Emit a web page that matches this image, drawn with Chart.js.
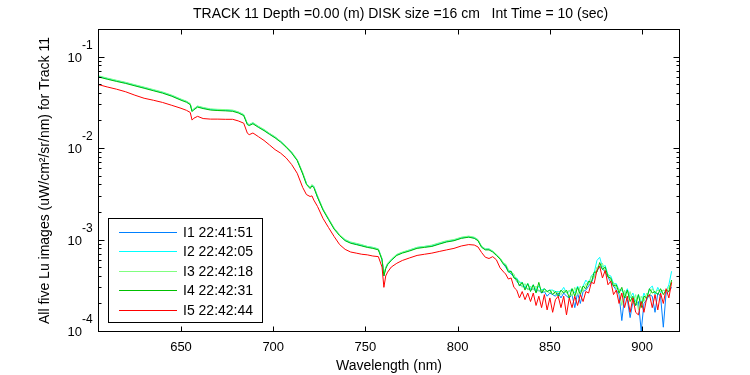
<!DOCTYPE html>
<html>
<head>
<meta charset="utf-8">
<script src="https://cdn.jsdelivr.net/npm/chart.js@4.4.1/dist/chart.umd.min.js"></script>
<style>
  html, body { margin: 0; padding: 0; background: #fff; }
  canvas { display: block; }
</style>
</head>
<body>
<canvas id="chart" width="750" height="375"></canvas>
<script>
const titleText = 'TRACK 11 Depth =0.00 (m) DISK size =16 cm   Int Time = 10 (sec)';
const xLabel = 'Wavelength (nm)';
const yLabel = 'All five Lu images (uW/cm\u00B2/sr/nm) for Track 11';
const xTicks = [650, 700, 750, 800, 850, 900];
const yTicks = [1e-4, 1e-3, 1e-2, 1e-1];
const yTickExp = ['-4', '-3', '-2', '-1'];
const seriesNames = ['I1 22:41:51', 'I2 22:42:05', 'I3 22:42:18', 'I4 22:42:31', 'I5 22:42:44'];
const seriesColors = ['#0080ff', '#00ffff', '#80ff80', '#00c000', '#ff0000'];

// wavelength (nm)
const wavelengths = [
  605, 610, 615, 620, 625, 630, 635, 640, 645, 650, 653, 655, 656, 657, 659, 662, 666, 670, 674, 678,
  681, 684, 686, 687, 689, 692, 695, 698, 701, 704, 707, 710, 713, 716, 718, 720, 721, 722, 724, 727,
  730, 733, 736, 739, 742, 745, 748, 751, 754, 757, 759, 760, 761, 762, 764, 767, 770, 774, 778, 782,
  786, 790, 794, 798, 802, 806, 809, 811, 813, 815, 817, 819, 821, 823, 825,
  826, 827.5, 829, 830.5, 832, 833.5, 835, 836.5, 838, 839.5, 841, 842.5, 844, 845.5, 847, 848.5,
  850, 851.5, 853, 854.5, 856, 857.5, 859, 860.5, 862, 863.5, 865, 866.5, 868, 869.5, 871, 872.5,
  874, 875.5, 877, 878.5, 880, 881.5, 883, 884.5, 886, 887.5, 889, 890.5, 892, 893.5, 895, 896.5,
  898, 899.5, 901, 902.5, 904, 905.5, 907, 908.5, 910, 911.5, 913, 914.5, 916
];

const lu1 = [
  0.0609, 0.0573, 0.0543, 0.0516, 0.0485, 0.0457, 0.0429, 0.0404, 0.0373, 0.0338, 0.0321, 0.0302, 0.0254, 0.0266, 0.0284, 0.0274, 0.0264, 0.0261, 0.0259, 0.0256,
  0.0246, 0.0229, 0.0183, 0.0179, 0.0187, 0.0171, 0.0157, 0.0143, 0.0131, 0.0118, 0.0104, 0.0089, 0.0074, 0.0053, 0.0041, 0.0037, 0.0039, 0.0038, 0.0029, 0.00213,
  0.00167, 0.00132, 0.00112, 0.00098, 0.00092, 0.00089, 0.00086, 0.00083, 0.00081, 0.00078, 0.00061, 0.00040, 0.00049, 0.00054, 0.00060, 0.00068, 0.00072, 0.00076, 0.00081, 0.00083,
  0.00085, 0.00090, 0.00095, 0.00098, 0.00104, 0.00107, 0.00104, 0.00098, 0.00083, 0.00078, 0.00078, 0.00074, 0.00068, 0.00062, 0.00054,
  5.0e-4, 4.5e-4, 4.2e-4, 3.9e-4, 3.5e-4, 3.2e-4, 3.1e-4, 3.0e-4, 2.9e-4, 2.8e-4, 2.9e-4, 2.7e-4, 2.8e-4, 2.6e-4, 2.7e-4, 2.4e-4,
  2.6e-4, 2.5e-4, 2.4e-4, 2.6e-4, 2.3e-4, 2.6e-4, 2.4e-4, 2.3e-4, 2.5e-4, 1.8e-4, 2.6e-4, 2.0e-4, 2.7e-4, 2.8e-4, 3.1e-4, 3.4e-4,
  4.0e-4, 4.5e-4, 5.1e-4, 4.8e-4, 4.4e-4, 3.9e-4, 3.4e-4, 3.1e-4, 2.8e-4, 2.5e-4, 1.3e-4, 2.4e-4, 2.2e-4, 1.4e-4, 2.1e-4, 1.9e-4,
  2.1e-4, 1.0e-4, 2.0e-4, 2.2e-4, 2.5e-4, 2.4e-4, 1.6e-4, 2.6e-4, 2.4e-4, 1.1e-4, 2.6e-4, 2.7e-4, 3.0e-4
];

const lu2 = [
  0.0612, 0.0576, 0.0546, 0.0518, 0.0488, 0.0459, 0.0431, 0.0406, 0.0375, 0.0340, 0.0322, 0.0304, 0.0255, 0.0267, 0.0286, 0.0275, 0.0265, 0.0262, 0.0260, 0.0257,
  0.0247, 0.0231, 0.0184, 0.0180, 0.0188, 0.0171, 0.0158, 0.0144, 0.0132, 0.0118, 0.0104, 0.0090, 0.0074, 0.0053, 0.0041, 0.0037, 0.0039, 0.0038, 0.0030, 0.00214,
  0.00168, 0.00133, 0.00112, 0.00099, 0.00093, 0.00090, 0.00087, 0.00084, 0.00082, 0.00079, 0.00061, 0.00041, 0.00049, 0.00054, 0.00060, 0.00068, 0.00072, 0.00077, 0.00082, 0.00084,
  0.00086, 0.00091, 0.00096, 0.00099, 0.00105, 0.00108, 0.00105, 0.00099, 0.00084, 0.00079, 0.00079, 0.00074, 0.00068, 0.00062, 0.00054,
  5.3e-4, 4.6e-4, 4.5e-4, 3.9e-4, 3.8e-4, 3.4e-4, 3.4e-4, 3.0e-4, 3.3e-4, 2.9e-4, 3.2e-4, 2.8e-4, 3.1e-4, 2.8e-4, 2.9e-4, 2.7e-4,
  2.8e-4, 2.8e-4, 2.7e-4, 2.7e-4, 2.7e-4, 3.0e-4, 2.6e-4, 2.7e-4, 2.9e-4, 2.6e-4, 3.1e-4, 2.7e-4, 3.1e-4, 3.6e-4, 3.3e-4, 4.0e-4,
  4.3e-4, 5.9e-4, 6.4e-4, 5.0e-4, 5.2e-4, 4.1e-4, 4.0e-4, 3.3e-4, 3.3e-4, 2.8e-4, 2.8e-4, 2.5e-4, 2.9e-4, 2.3e-4, 2.6e-4, 2.1e-4,
  2.5e-4, 2.0e-4, 2.6e-4, 2.2e-4, 2.9e-4, 3.1e-4, 2.5e-4, 3.0e-4, 2.6e-4, 2.8e-4, 2.7e-4, 3.2e-4, 4.5e-4
];

const lu3 = [
  0.0618, 0.0582, 0.0551, 0.0523, 0.0492, 0.0464, 0.0436, 0.0410, 0.0379, 0.0343, 0.0325, 0.0307, 0.0258, 0.0270, 0.0288, 0.0278, 0.0268, 0.0265, 0.0263, 0.0260,
  0.0249, 0.0233, 0.0185, 0.0181, 0.0190, 0.0173, 0.0160, 0.0145, 0.0133, 0.0119, 0.0105, 0.0091, 0.0075, 0.0054, 0.0041, 0.0037, 0.0040, 0.0038, 0.0030, 0.00216,
  0.00170, 0.00134, 0.00113, 0.00100, 0.00094, 0.00091, 0.00088, 0.00084, 0.00082, 0.00079, 0.00062, 0.00041, 0.00049, 0.00055, 0.00061, 0.00069, 0.00073, 0.00077, 0.00082, 0.00084,
  0.00087, 0.00092, 0.00097, 0.00100, 0.00106, 0.00109, 0.00106, 0.00100, 0.00084, 0.00079, 0.00079, 0.00075, 0.00069, 0.00063, 0.00055,
  5.4e-4, 4.7e-4, 4.3e-4, 4.2e-4, 3.5e-4, 3.5e-4, 3.0e-4, 3.3e-4, 2.8e-4, 3.1e-4, 2.8e-4, 3.1e-4, 2.7e-4, 2.8e-4, 2.7e-4, 2.7e-4,
  2.6e-4, 2.8e-4, 2.5e-4, 2.7e-4, 2.5e-4, 2.8e-4, 2.6e-4, 2.8e-4, 2.4e-4, 3.0e-4, 2.5e-4, 3.1e-4, 2.7e-4, 3.3e-4, 3.2e-4, 4.0e-4,
  3.8e-4, 5.0e-4, 5.0e-4, 5.5e-4, 4.3e-4, 4.2e-4, 3.5e-4, 3.4e-4, 2.9e-4, 2.9e-4, 1.9e-4, 2.8e-4, 2.2e-4, 2.7e-4, 2.0e-4, 2.5e-4,
  1.7e-4, 2.4e-4, 2.1e-4, 2.6e-4, 2.4e-4, 2.9e-4, 2.6e-4, 2.8e-4, 2.7e-4, 2.8e-4, 2.7e-4, 3.0e-4, 3.4e-4
];

const lu4 = [
  0.0600, 0.0565, 0.0535, 0.0508, 0.0478, 0.0450, 0.0423, 0.0398, 0.0368, 0.0333, 0.0316, 0.0298, 0.0250, 0.0262, 0.0280, 0.0270, 0.0260, 0.0257, 0.0255, 0.0252,
  0.0242, 0.0226, 0.0180, 0.0176, 0.0184, 0.0168, 0.0155, 0.0141, 0.0129, 0.0116, 0.0102, 0.0088, 0.0073, 0.0052, 0.0040, 0.0036, 0.00385, 0.0037, 0.0029, 0.0021,
  0.00165, 0.00130, 0.00110, 0.00097, 0.00091, 0.00088, 0.00085, 0.00082, 0.00080, 0.00077, 0.00060, 0.00040, 0.00048, 0.00053, 0.00059, 0.00067, 0.00071, 0.00075, 0.00080, 0.00082,
  0.00084, 0.00089, 0.00094, 0.00097, 0.00103, 0.00106, 0.00103, 0.00097, 0.00082, 0.00077, 0.00077, 0.00073, 0.00067, 0.00061, 0.00053,
  5.2e-4, 4.4e-4, 4.5e-4, 3.8e-4, 3.7e-4, 3.1e-4, 3.4e-4, 2.8e-4, 3.3e-4, 2.7e-4, 3.2e-4, 2.6e-4, 3.4e-4, 2.6e-4, 2.9e-4, 2.7e-4,
  2.8e-4, 2.5e-4, 2.7e-4, 2.4e-4, 2.8e-4, 2.6e-4, 2.8e-4, 2.3e-4, 2.9e-4, 2.4e-4, 3.0e-4, 2.5e-4, 3.1e-4, 2.9e-4, 3.5e-4, 3.4e-4,
  4.4e-4, 4.4e-4, 5.6e-4, 4.7e-4, 5.0e-4, 3.9e-4, 3.8e-4, 3.1e-4, 3.2e-4, 2.6e-4, 3.0e-4, 2.3e-4, 2.8e-4, 2.1e-4, 2.4e-4, 1.9e-4,
  2.5e-4, 1.8e-4, 2.4e-4, 2.3e-4, 2.9e-4, 2.6e-4, 2.7e-4, 2.5e-4, 2.9e-4, 2.5e-4, 2.8e-4, 2.7e-4, 3.6e-4
];

const lu5 = [
  0.0495, 0.0465, 0.0440, 0.0412, 0.0378, 0.0350, 0.0333, 0.0315, 0.0293, 0.0272, 0.0258, 0.0245, 0.0202, 0.0212, 0.0222, 0.0210, 0.0207, 0.0207, 0.0206, 0.0206,
  0.0198, 0.0187, 0.0145, 0.0140, 0.0146, 0.0133, 0.0121, 0.0108, 0.0096, 0.0088, 0.0078, 0.0066, 0.0053, 0.0037, 0.0031, 0.00295, 0.0030, 0.0027, 0.0023, 0.0017,
  0.00135, 0.00108, 0.00088, 0.00078, 0.00073, 0.00071, 0.00069, 0.00068, 0.00066, 0.00065, 0.00050, 0.00030, 0.00040, 0.00044, 0.00050, 0.00055, 0.00059, 0.00063, 0.00067, 0.00069,
  0.00071, 0.00074, 0.00077, 0.00080, 0.00085, 0.00088, 0.00087, 0.00083, 0.00072, 0.00064, 0.00062, 0.00065, 0.00060, 0.00049, 0.00044,
  4.2e-4, 3.7e-4, 3.8e-4, 3.0e-4, 2.8e-4, 2.3e-4, 2.7e-4, 2.2e-4, 2.6e-4, 2.1e-4, 2.6e-4, 1.9e-4, 2.4e-4, 1.8e-4, 2.5e-4, 1.7e-4,
  2.3e-4, 1.6e-4, 2.2e-4, 2.4e-4, 1.8e-4, 2.4e-4, 1.5e-4, 2.3e-4, 1.8e-4, 2.4e-4, 1.9e-4, 2.5e-4, 2.1e-4, 2.7e-4, 2.6e-4, 3.4e-4,
  3.3e-4, 4.6e-4, 5.1e-4, 3.8e-4, 4.6e-4, 3.2e-4, 3.5e-4, 2.5e-4, 2.8e-4, 2.0e-4, 2.6e-4, 1.8e-4, 2.4e-4, 1.6e-4, 2.3e-4, 1.6e-4,
  1.5e-4, 2.1e-4, 1.6e-4, 2.3e-4, 2.5e-4, 1.8e-4, 2.5e-4, 1.7e-4, 2.6e-4, 2.0e-4, 2.9e-4, 2.3e-4, 3.4e-4
];

const allSeries = [lu1, lu2, lu3, lu4, lu5];

const FONT = '"Liberation Sans", Arial, sans-serif';

// MATLAB-ish boxed axes, inward ticks, superscript log labels, inset legend
const axesPlugin = {
  id: 'matlabAxes',
  afterDraw(chart) {
    const { ctx, chartArea: a, scales: { x, y } } = chart;
    const L = Math.round(a.left) + 0.5, R = Math.round(a.right) + 0.5;
    const T = Math.round(a.top) + 0.5, B = Math.round(a.bottom) + 0.5;
    ctx.save();
    ctx.strokeStyle = '#000';
    ctx.lineWidth = 1;
    ctx.strokeRect(L, T, R - L, B - T);

    ctx.beginPath();
    xTicks.forEach(v => {
      const px = Math.round(x.getPixelForValue(v)) + 0.5;
      ctx.moveTo(px, B); ctx.lineTo(px, B - 5);
      ctx.moveTo(px, T); ctx.lineTo(px, T + 5);
    });
    yTicks.forEach(dec => {
      for (let m = 1; m < 10; m++) {
        const v = m * dec;
        if (v > y.max) break;
        const py = Math.round(y.getPixelForValue(v)) + 0.5;
        const len = m === 1 ? 6 : 3;
        ctx.moveTo(L, py); ctx.lineTo(L + len, py);
        ctx.moveTo(R, py); ctx.lineTo(R - len, py);
      }
    });
    ctx.stroke();

    ctx.fillStyle = '#000';
    ctx.font = '13px ' + FONT;
    ctx.textAlign = 'center';
    ctx.textBaseline = 'alphabetic';
    xTicks.forEach(v => ctx.fillText(String(v), x.getPixelForValue(v), B + 19));

    yTicks.forEach((v, i) => {
      const py = y.getPixelForValue(v);
      ctx.font = '13px ' + FONT;
      ctx.textAlign = 'right';
      ctx.fillText('10', 82, py + 5);
      ctx.textAlign = 'left';
      ctx.font = '12px ' + FONT;
      ctx.fillText(yTickExp[i], 82, py - 8);
    });

    // title and axis labels
    ctx.font = '14px ' + FONT;
    ctx.textAlign = 'left';
    ctx.fillText(titleText, 193, 18);
    ctx.textAlign = 'center';
    ctx.fillText(xLabel, (L + R) / 2, 370);
    ctx.save();
    ctx.translate(49, (T + B) / 2);
    ctx.rotate(-Math.PI / 2);
    ctx.fillText(yLabel, 0, 0);
    ctx.restore();

    // legend
    const lx = 108.5, ly = 218.5, lw = 154, lh = 104;
    ctx.fillStyle = '#fff';
    ctx.fillRect(lx, ly, lw, lh);
    ctx.strokeStyle = '#000';
    ctx.strokeRect(lx, ly, lw, lh);
    ctx.font = '14px ' + FONT;
    ctx.textAlign = 'left';
    ctx.textBaseline = 'middle';
    seriesNames.forEach((name, i) => {
      const ry = Math.round(232 + i * 19.4) + 0.5;
      ctx.strokeStyle = seriesColors[i];
      ctx.beginPath();
      ctx.moveTo(119, ry); ctx.lineTo(177, ry);
      ctx.stroke();
      ctx.fillStyle = '#000';
      ctx.fillText(name, 183, ry + 1);
    });
    ctx.restore();
  }
};

new Chart(document.getElementById('chart'), {
  type: 'line',
  data: {
    datasets: allSeries.map((vals, i) => ({
      label: seriesNames[i],
      data: wavelengths.map((w, k) => ({ x: w, y: vals[k] })),
      borderColor: seriesColors[i],
      borderWidth: 1,
      pointRadius: 0,
      tension: 0,
      fill: false,
      order: 5 - i
    }))
  },
  options: {
    responsive: false,
    devicePixelRatio: 1,
    animation: false,
    layout: { padding: { left: 98, right: 71, top: 29, bottom: 44 } },
    plugins: { legend: { display: false }, tooltip: { enabled: false }, title: { display: false } },
    scales: {
      x: { type: 'linear', min: 605, max: 920, display: false },
      y: { type: 'logarithmic', min: 1e-4, max: 0.2, display: false }
    }
  },
  plugins: [axesPlugin]
});
</script>
</body>
</html>
